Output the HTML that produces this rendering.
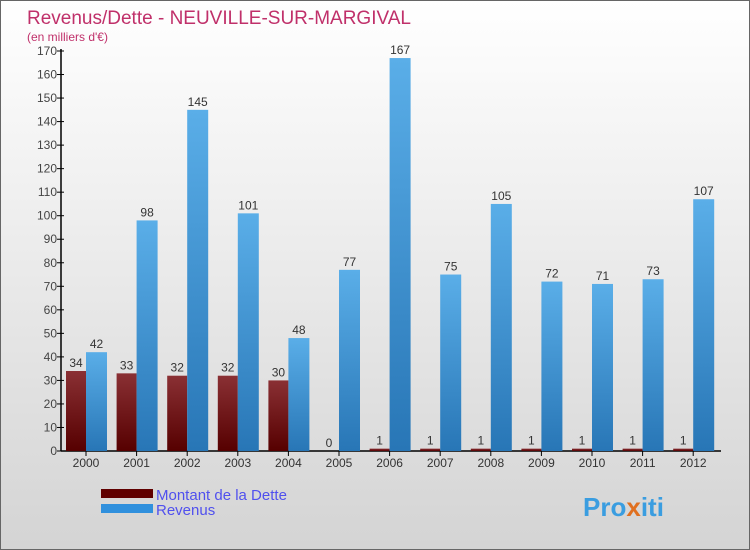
<!DOCTYPE html>
<html><head><meta charset="utf-8"><style>
body{margin:0}
#c{width:750px;height:550px;position:relative;overflow:hidden;font-family:"Liberation Sans",sans-serif;background:linear-gradient(#ffffff,#d4d4d4);box-sizing:border-box;border:1px solid #666}
</style></head><body>
<div id="c">
<svg width="750" height="550" id="s">
<defs>
<linearGradient id="gr" x1="0" y1="0" x2="0" y2="1"><stop offset="0" stop-color="#8a3034"/><stop offset="1" stop-color="#560000"/></linearGradient>
<linearGradient id="gb" x1="0" y1="0" x2="0" y2="1"><stop offset="0" stop-color="#5aaee8"/><stop offset="1" stop-color="#2876b6"/></linearGradient>
</defs>
<text x="26" y="23" font-size="19" fill="#c0306a">Revenus/Dette - NEUVILLE-SUR-MARGIVAL</text>
<text x="26" y="40" font-size="12" fill="#c0306a">(en milliers d'€)</text>
<g id="g"></g>
<rect x="100" y="488" width="52" height="9" fill="#600000"/>
<rect x="100" y="503" width="52" height="9" fill="#3090dd"/>
<text x="155" y="499" font-size="15" fill="#5050ee">Montant de la Dette</text>
<text x="155" y="514" font-size="15" fill="#5050ee">Revenus</text>
<text x="582" y="515" font-size="26" font-weight="bold" fill="#3a9de0">Pro<tspan fill="#e07020">x</tspan>iti</text>
</svg></div>
<script>
const years=["2000","2001","2002","2003","2004","2005","2006","2007","2008","2009","2010","2011","2012"];
const dette=[34,33,32,32,30,0,1,1,1,1,1,1,1];
const revenus=[42,98,145,101,48,77,167,75,105,72,71,73,107];
const yTicks=[0,10,20,30,40,50,60,70,80,90,100,110,120,130,140,150,160,170];
const NS="http://www.w3.org/2000/svg";
const g=document.getElementById('g');
const y=v=>450-v*400/170;
const x=i=>85+i*50.6;
function mk(t,a,p){const e=document.createElementNS(NS,t);for(const k in a)e.setAttribute(k,a[k]);(p||g).appendChild(e);return e;}
const ax=mk('line',{x1:60,y1:48,x2:60,y2:450,stroke:'#000','stroke-width':1.5});


const bx=mk('line',{x1:60,y1:450,x2:720,y2:450,stroke:'#000','stroke-width':1.5});


yTicks.forEach(v=>{
 const l=mk('line',{x1:56,x2:63,y1:y(v),y2:y(v),stroke:'#000'});
 
 
 const t=mk('text',{x:56,y:y(v)+4,'text-anchor':'end','font-size':12,fill:'#444'});t.textContent=v;
 
 
});
years.forEach((yr,i)=>{
 const c=x(i);
 const r=mk('rect',{x:c-20,y:y(dette[i]),width:20,height:450-y(dette[i]),fill:'url(#gr)'});
 
 
 const b=mk('rect',{x:c,y:y(revenus[i]),width:21,height:450-y(revenus[i]),fill:'url(#gb)'});
 
 
 const t1=mk('text',{x:c-10,y:y(dette[i])-4,'text-anchor':'middle','font-size':12,fill:'#333'});t1.textContent=dette[i];
 
 
 const t2=mk('text',{x:c+10.5,y:y(revenus[i])-4,'text-anchor':'middle','font-size':12,fill:'#333'});t2.textContent=revenus[i];
 
 
 const tk=mk('line',{x1:c,x2:c,y1:450,y2:455,stroke:'#000'});
 
 
 const xl=mk('text',{x:c,y:466,'text-anchor':'middle','font-size':12,fill:'#333'});xl.textContent=yr;
 
 
});
</script>
</body></html>
